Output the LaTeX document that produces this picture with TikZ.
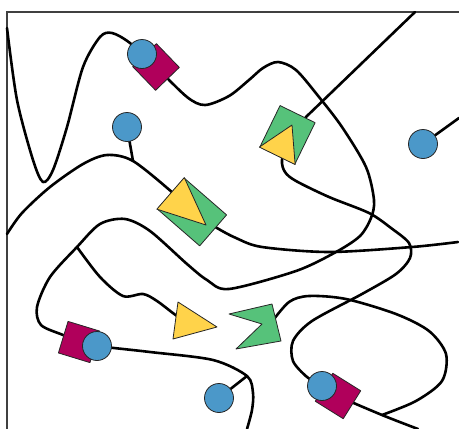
\documentclass[tikz,border=0pt]{standalone}
\usepackage{tikz}
\usetikzlibrary{backgrounds}

\definecolor{dotblue}{HTML}{4B98C9}
\definecolor{boxmagenta}{HTML}{B0005B}
\definecolor{boxgreen}{HTML}{56C27A}
\definecolor{boxyellow}{HTML}{FFD34A}

\begin{document}
\begin{tikzpicture}[x=1pt,y=-1pt,
  wire/.style={line width=2.6pt,line cap=round,line join=round},
  edge/.style={draw=black!85,line width=0.8pt,line join=round},
  dot/.style={edge,circle,fill=dotblue,minimum size=29pt,inner sep=0pt},
  mbox/.style={edge,rectangle,fill=boxmagenta,minimum size=33pt,inner sep=0pt},
  gbox/.style={edge,rectangle,fill=boxgreen,inner sep=0pt},
  ypart/.style={edge,fill=boxyellow}]
\useasboundingbox (0,0) rectangle (459,429);

\node[mbox,rotate=44] (m1) at (156,67) {};
\node[mbox,rotate=-17] (m2) at (79,342) {};
\node[mbox,rotate=-32] (m3) at (338,396) {};
\node[dot] (b1) at (142,54) {};
\node[dot] (b2) at (127,127) {};
\node[dot] (b3) at (97,346) {};
\node[dot] (b4) at (423,144) {};
\node[dot] (b5) at (322,386) {};
\node[dot] (b6) at (219,398) {};
\node[gbox,rotate=-41,minimum width=56pt,minimum height=41pt] (g1) at (192,212) {};
\node[gbox,rotate=-26,minimum width=39pt,minimum height=46pt] (g2) at (287.5,134.8) {};
\draw[ypart] (g1.north west) -- (g1.south west) -- (206,225) -- cycle;
\draw[ypart] (g2.south west) -- (292,125) -- (g2.south east) -- cycle;
\draw[ypart] (178,302) -- (217,327) -- (173,339) -- cycle;
\draw[edge,fill=boxgreen] (229,314) -- (272,304) -- (281,341) -- (236,349) -- (262,324) -- cycle;
\coordinate (t1) at (189,322);
\coordinate (ch) at (271,323);

\coordinate (a0) at (7,28);
\coordinate (a1) at (247,429);
\coordinate (c0) at (7,234);
\coordinate (c1) at (458,242);
\coordinate (j1) at (133,161);
\coordinate (j2) at (247,376);
\coordinate (j3) at (77,247);
\coordinate (j4) at (382,415);
\coordinate (e1) at (418,429);
\coordinate (e2) at (459,118);
\coordinate (e3) at (415,12);

\begin{scope}[on background layer]
\draw[line width=1.2pt,black!75] (7,429) -- (7,12) -- (459,12);
\draw[wire] plot[smooth] coordinates {(a0) (17,100) (33,160) (43,182) (53,170) (67,127)
  (83,67) (100,37) (112,33) (130,43) (m1.center) (187,97) (205,105) (229,96) (249,80)
  (263,68) (278,62) (296,70) (319,97) (342,127) (366,167) (374,200) (371,218) (360,236)
  (336,252) (296,271) (229,289) (207,280) (187,264) (150,231) (125,219) (100,224) (j3)
  (50,277) (37,307) (41,325) (63,335) (m2.center) (b3.center) (150,352) (213,360) (j2)
  (253,393) (252,410) (a1)};
\draw[wire] plot[smooth] coordinates {(c0) (22,213) (50,187) (83,164) (107,155) (j1)
  (173,193) (g1.center) (217,228) (236,238) (262,247) (329,252) (412,247) (c1)};
\draw[wire] plot[smooth] coordinates {(j3) (100,277) (123,296) (143,294) (157,301)
  (177,316) (t1)};
\draw[wire] plot[smooth] coordinates {(g2.center) (282,160) (285,172) (296,181)
  (329,197) (369,213) (391,228) (409,243) (410,258) (396,274) (362,294) (312,321)
  (293,341) (293,361) (307,377) (b5.center) (m3.center) (j4) (e1)};
\draw[wire] plot[smooth] coordinates {(ch) (289,302) (309,296) (346,299) (396,314)
  (429,331) (446,354) (442,381) (416,401) (j4)};
\draw[wire] (e3) -- (g2);
\draw[wire] (b2) -- (j1);
\draw[wire] (b6) -- (j2);
\draw[wire] (b4) -- (e2);
\end{scope}
\end{tikzpicture}
\end{document}
